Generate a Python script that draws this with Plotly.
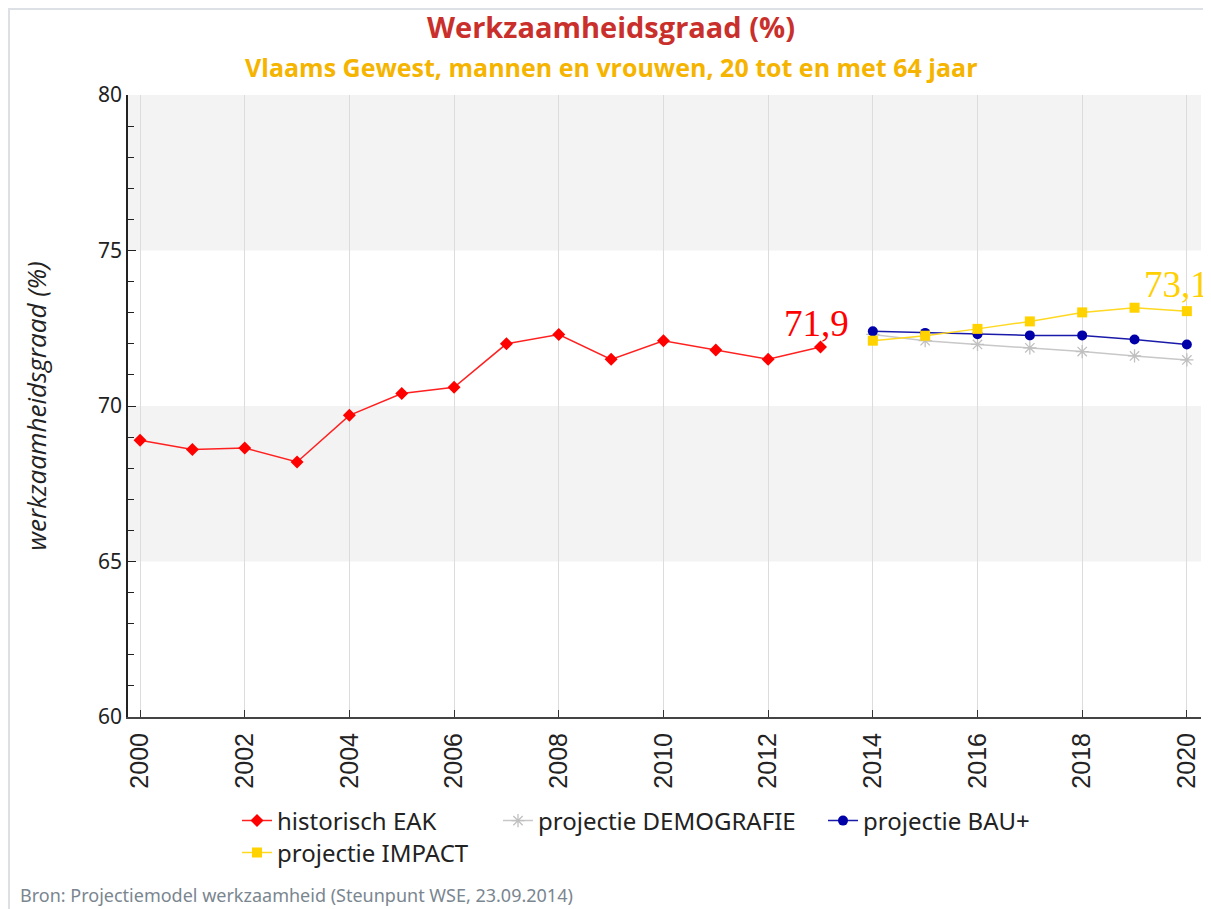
import plotly.graph_objects as go

years_hist = list(range(2000, 2014))
hist_eak = [68.9, 68.6, 68.65, 68.2, 69.7, 70.4, 70.6, 72.0, 72.3, 71.5, 72.1, 71.8, 71.5, 71.9]

years_proj = list(range(2014, 2021))
proj_demografie = [72.3, 72.1, 71.98, 71.87, 71.75, 71.61, 71.48]
proj_bau = [72.4, 72.35, 72.31, 72.27, 72.27, 72.14, 71.98]
proj_impact = [72.1, 72.26, 72.48, 72.72, 73.01, 73.16, 73.05]

x_ticks = list(range(2000, 2021, 2))
y_ticks = [60, 65, 70, 75, 80]
bands = [(65, 70), (75, 80)]

# page has an 8px body margin; figure sized to fit the window
OFF = 8
W, H = 1211 - OFF, 909 - OFF
PL, PR, PT, PB = 128, 1201, 95, 717  # plot area in page pixels
L, T = PL - OFF, PT - OFF
R, B = W - (PR - OFF), H - (PB - OFF)
pw, ph = PR - PL, PB - PT

def px(xp):
    return (xp - PL) / pw

def py(yp):
    return (PB - yp) / ph

fig = go.Figure()

fig.add_trace(go.Scatter(
    x=years_hist, y=hist_eak, name="historisch EAK", mode="lines+markers",
    line=dict(color="#ff2020", width=1.5),
    marker=dict(symbol="diamond", size=10, color="#ff0000"),
    legend="legend", cliponaxis=False))
fig.add_trace(go.Scatter(
    x=years_proj, y=proj_demografie, name="projectie DEMOGRAFIE", mode="lines+markers",
    line=dict(color="#c8c8c8", width=1.5),
    marker=dict(symbol="asterisk-open", size=11, color="#c0c0c0", line=dict(color="#c0c0c0", width=1.3)),
    legend="legend2", cliponaxis=False))
fig.add_trace(go.Scatter(
    x=years_proj, y=proj_bau, name="projectie BAU+", mode="lines+markers",
    line=dict(color="#1a1aaa", width=1.5),
    marker=dict(symbol="circle", size=10, color="#0000a8"),
    legend="legend3", cliponaxis=False))
fig.add_trace(go.Scatter(
    x=years_proj, y=proj_impact, name="projectie IMPACT", mode="lines+markers",
    line=dict(color="#ffd820", width=1.5),
    marker=dict(symbol="square", size=10, color="#ffd200"),
    legend="legend4", cliponaxis=False))

shapes = []
for y0, y1 in bands:
    shapes.append(dict(type="rect", xref="paper", yref="y", x0=0, x1=1, y0=y0, y1=y1,
                       fillcolor="#f3f3f3", line=dict(width=0), layer="below"))
# outer frame
shapes.append(dict(type="rect", xref="paper", yref="paper",
                   x0=px(OFF + 1), x1=px(1300), y0=py(1000), y1=py(OFF + 1),
                   line=dict(color="#dde1e6", width=2), fillcolor="rgba(0,0,0,0)", layer="below"))

annotations = [
    dict(text="<b>Werkzaamheidsgraad (%)</b>", xref="paper", yref="paper",
         x=px(611), y=py(27), showarrow=False, xanchor="center", yanchor="middle",
         font=dict(family="Open Sans", size=29, color="#c9302c")),
    dict(text="<b>Vlaams Gewest, mannen en vrouwen, 20 tot en met 64 jaar</b>", xref="paper", yref="paper",
         x=px(611), y=py(67), showarrow=False, xanchor="center", yanchor="middle",
         font=dict(family="Open Sans", size=25, color="#f5b400")),
    dict(text="Bron: Projectiemodel werkzaamheid (Steunpunt WSE, 23.09.2014)", xref="paper", yref="paper",
         x=px(18), y=py(895), showarrow=False, xanchor="left", yanchor="middle",
         font=dict(family="Noto Sans", size=18, color="#7a8690")),
    dict(text="71,9", x=years_hist[-1], y=hist_eak[-1], xref="x", yref="y", showarrow=False,
         xshift=-4, yshift=23, font=dict(family="Liberation Serif", size=37, color="#ff0000")),
    dict(text="73,1", x=years_proj[-1], y=proj_impact[-1], xref="x", yref="y", showarrow=False,
         xshift=-10, yshift=27, font=dict(family="Liberation Serif", size=37, color="#ffd000")),
]

leg_common = dict(orientation="h", xanchor="left", yanchor="middle",
                  font=dict(family="Noto Sans", size=24, color="#222222"),
                  bgcolor="rgba(0,0,0,0)", itemwidth=30, tracegroupgap=0)

fig.update_layout(
    width=W, height=H,
    margin=dict(l=L, r=R, t=T, b=B, autoexpand=False),
    paper_bgcolor="white", plot_bgcolor="white",
    showlegend=True,
    shapes=shapes, annotations=annotations,
    legend=dict(x=px(237), y=py(821), **leg_common),
    legend2=dict(x=px(498), y=py(821), **leg_common),
    legend3=dict(x=px(823), y=py(821), **leg_common),
    legend4=dict(x=px(237), y=py(853), **leg_common),
    xaxis=dict(range=[1999.77, 2020.27], tickvals=x_ticks, ticktext=[str(v) for v in x_ticks],
               tickangle=-90, ticks="inside", ticklen=7, tickcolor="#333",
               ticklabelstandoff=4,
               showgrid=True, gridcolor="#dcdcdc", gridwidth=1,
               showline=True, linecolor="#444", linewidth=2, zeroline=False,
               tickfont=dict(family="Liberation Sans", size=25, color="#222")),
    yaxis=dict(range=[60, 80], tickvals=y_ticks, ticks="inside", ticklen=8, tickcolor="#222",
               minor=dict(dtick=1, ticks="inside", ticklen=6, tickcolor="#222", showgrid=False),
               showgrid=False, showline=True, linecolor="#222", linewidth=1.5, zeroline=False,
               tickfont=dict(family="Noto Sans", size=21, color="#222"),
               title=dict(text="<i>werkzaamheidsgraad (%)</i>", standoff=44,
                          font=dict(family="Open Sans", size=26, color="#222"))),
)

fig.write_html("out.html")
